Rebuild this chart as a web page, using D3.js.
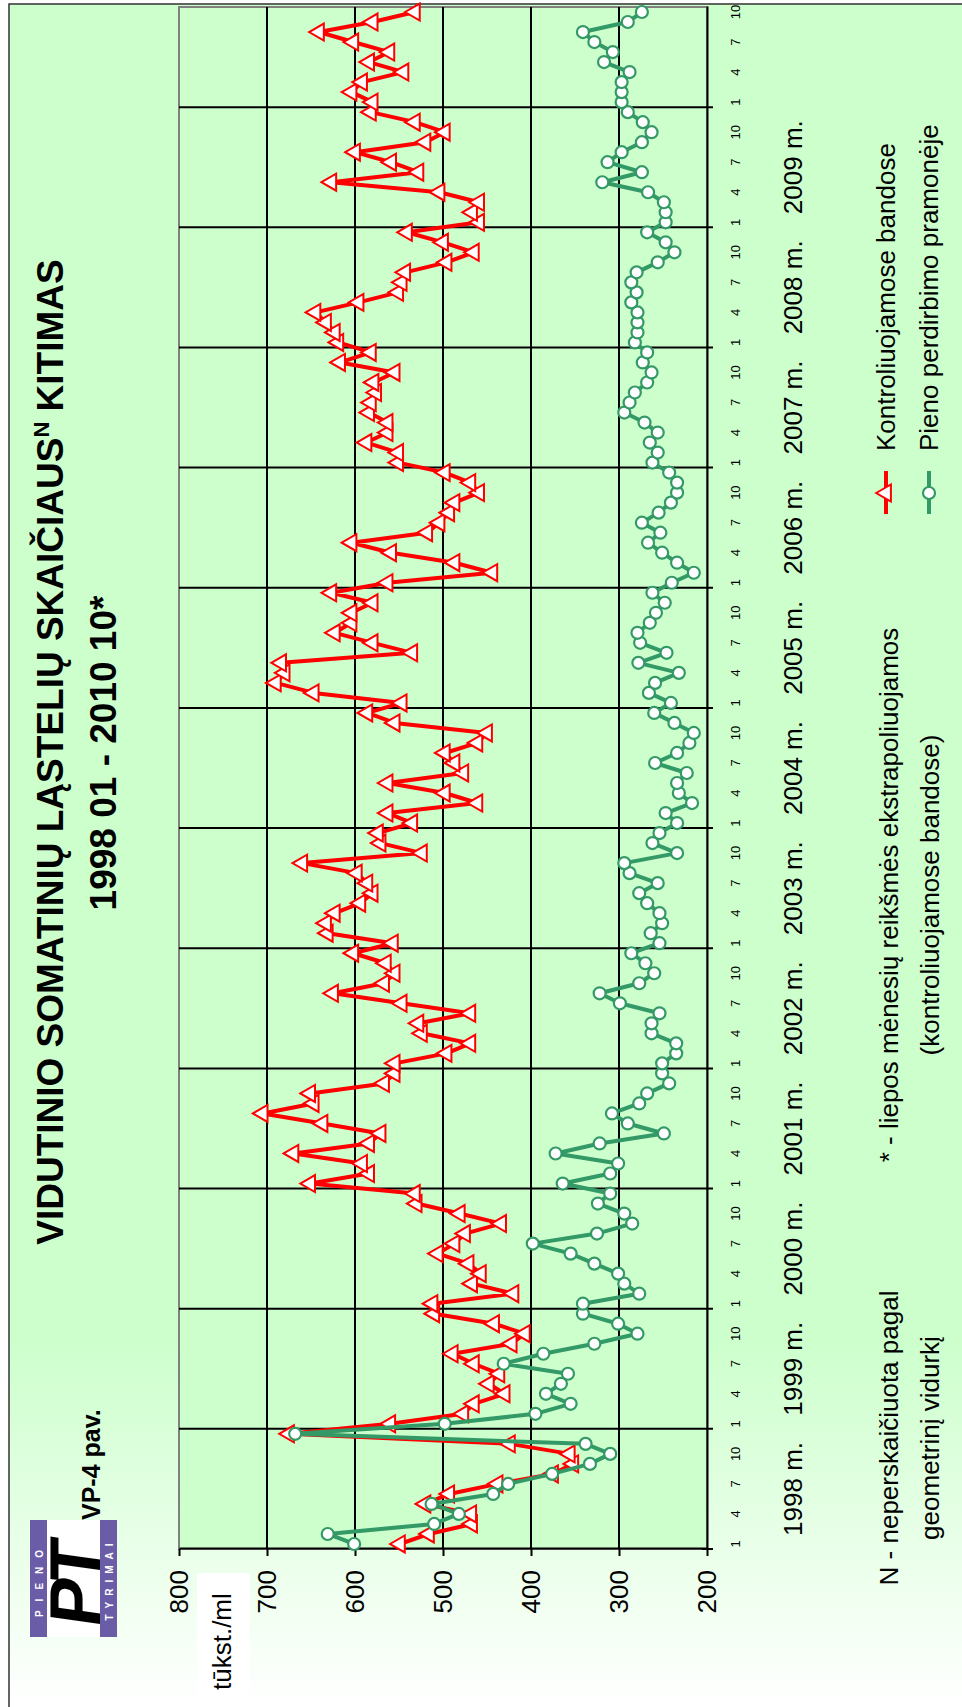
<!DOCTYPE html>
<html>
<head>
<meta charset="utf-8">
<script src="https://cdn.jsdelivr.net/npm/d3@7"></script>
<style>
  body { margin: 0; background: #fff; }
  svg { display: block; font-family: "Liberation Sans", Arial, sans-serif; }
</style>
</head>
<body>
<svg id="chart" width="962" height="1707"></svg>
<script>
// categories
var years = [1998, 1999, 2000, 2001, 2002, 2003, 2004, 2005, 2006, 2007, 2008, 2009, 2010];
var lastMonth = 10;            // data ends 2010 10
var monthTicks = [1, 4, 7, 10];
var valueTicks = [200, 300, 400, 500, 600, 700, 800];
var seriesNames = ["Kontroliuojamose bandose", "Pieno perdirbimo pramonėje"];

// tūkst./ml, monthly, 1998 01 - 2010 10
var kontrol = [
  549, 516, 467, 468, 520, 493, 438, 375, 352, 356, 424, 675,   // 1998
  560, 477, 465, 430, 448, 436, 465, 489, 422, 407, 442, 510,   // 1999
  512, 420, 467, 457, 471, 506, 487, 475, 434, 481, 530, 532,   // 2000
  651, 584, 592, 670, 584, 571, 637, 705, 647, 651, 567, 555,   // 2001
  555, 496, 469, 524, 528, 469, 547, 625, 567, 555, 565, 602,   // 2002
  557, 631, 633, 623, 594, 580, 586, 598, 660, 524, 571, 574,   // 2003
  535, 563, 461, 498, 563, 477, 487, 498, 461, 450, 555, 586,   // 2004
  547, 647, 690, 680, 684, 535, 580, 623, 604, 604, 580, 627,   // 2005
  563, 444, 487, 559, 604, 518, 504, 493, 487, 459, 469, 498,   // 2006
  551, 551, 587, 563, 563, 584, 582, 576, 579, 555, 617, 582,   // 2007
  619, 623, 633, 645, 596, 551, 547, 543, 496, 465, 500, 541,   // 2008
  459, 467, 459, 504, 627, 528, 559, 600, 520, 498, 532, 582,   // 2009
  580, 604, 592, 545, 584, 561, 602, 641, 580, 532              // 2010
];
var pramone = [
  601, 631, 510, 482, 513, 443, 426, 376, 333, 310, 338, 668,   // 1998
  498, 395, 355, 383, 366, 358, 431, 386, 328, 279, 301, 341,   // 1999
  341, 277, 294, 301, 328, 355, 398, 325, 285, 294, 324, 310,   // 2000
  364, 310, 301, 372, 322, 249, 290, 308, 277, 268, 243, 251,   // 2001
  251, 235, 235, 263, 263, 254, 299, 322, 277, 260, 270, 286,   // 2002
  254, 264, 251, 254, 268, 277, 256, 288, 294, 234, 262, 254,   // 2003
  234, 247, 217, 232, 234, 223, 259, 234, 220, 215, 237, 260,   // 2004
  241, 266, 259, 232, 278, 246, 276, 279, 265, 258, 248, 262,   // 2005
  240, 215, 234, 251, 267, 253, 274, 255, 241, 234, 234, 243,   // 2006
  262, 256, 265, 256, 271, 294, 288, 282, 268, 263, 273, 268,   // 2007
  282, 279, 279, 279, 286, 280, 286, 280, 256, 237, 247, 268,   // 2008
  247, 247, 249, 267, 319, 274, 313, 297, 274, 263, 273, 290,   // 2009
  297, 297, 297, 288, 317, 307, 328, 341, 290, 274              // 2010
];

var months = [];
years.forEach(function(yr) {
  for (var m = 1; m <= 12; m++) {
    if (yr < years[years.length - 1] || m <= lastMonth) months.push({ year: yr, month: m });
  }
});

// the chart is drawn landscape (1707 x 962) and turned a quarter to the left
var W = 1707;
var svg = d3.select('#chart');
var g = svg.append('g').attr('transform', 'translate(0,' + W + ') rotate(-90)');

var grad = svg.append('defs').append('linearGradient')
  .attr('id', 'bg').attr('gradientUnits', 'userSpaceOnUse')
  .attr('x1', 0).attr('y1', 0).attr('x2', 370).attr('y2', 0);
grad.append('stop').attr('offset', 0).attr('stop-color', '#ffffff');
grad.append('stop').attr('offset', 1).attr('stop-color', '#ccffcc');

g.append('rect')
  .attr('x', -10).attr('y', 9).attr('width', 1713).attr('height', 1000)
  .attr('fill', 'url(#bg)').attr('stroke', '#333').attr('stroke-width', 1.5);

var plotL = 158, plotR = 1700, plotT = 179, plotB = 707;

var x = d3.scaleBand().domain(d3.range(months.length)).range([plotL, plotR]).padding(0);
var bw = x.bandwidth();
var cx = function(i) { return x(i) + bw / 2; };
var y = d3.scaleLinear().domain([200, 800]).range([plotB, plotT]);

// plot area
g.append('rect')
  .attr('x', plotL).attr('y', plotT).attr('width', plotR - plotL).attr('height', plotB - plotT)
  .attr('fill', '#ccffcc').attr('stroke', '#808080').attr('stroke-width', 2);

// value gridlines
g.append('g').selectAll('line')
  .data(valueTicks.filter(function(v) { return v > 200 && v < 800; }))
  .enter().append('line')
  .attr('x1', plotL).attr('x2', plotR)
  .attr('y1', function(d) { return y(d); }).attr('y2', function(d) { return y(d); })
  .attr('stroke', '#000').attr('stroke-width', 2);

// year boundaries
var yearStarts = [];
months.forEach(function(d, i) { if (d.month === 1 && i > 0) yearStarts.push(i); });
g.append('g').selectAll('line')
  .data(yearStarts)
  .enter().append('line')
  .attr('x1', function(d) { return x(d); }).attr('x2', function(d) { return x(d); })
  .attr('y1', plotT).attr('y2', plotB + 6)
  .attr('stroke', '#000').attr('stroke-width', 2);

// value axis
var yAxis = d3.axisLeft(y).tickValues(valueTicks).tickSize(7).tickSizeOuter(0).tickPadding(14);
var ya = g.append('g').attr('transform', 'translate(' + plotL + ',0)').call(yAxis);
ya.attr('font-family', null).attr('font-size', null);
ya.selectAll('text').attr('font-size', 26).attr('fill', '#000');
ya.selectAll('line, path').attr('stroke', '#000').attr('stroke-width', 2);

// month axis
var xAxis = d3.axisBottom(x)
  .tickValues(d3.range(months.length).filter(function(i) { return monthTicks.indexOf(months[i].month) >= 0; }))
  .tickFormat(function(i) { return months[i].month; })
  .tickSize(0).tickSizeOuter(0).tickPadding(24);
var xa = g.append('g').attr('transform', 'translate(0,' + plotB + ')').call(xAxis);
xa.attr('font-family', null).attr('font-size', null);
xa.selectAll('text').attr('font-size', 13).attr('fill', '#000');
xa.select('.domain').attr('stroke', '#000').attr('stroke-width', 2);
xa.append('line').attr('x1', plotL).attr('x2', plotL).attr('y1', -5).attr('y2', 6)
  .attr('stroke', '#000').attr('stroke-width', 2);

// year labels (full years only)
var fullYears = years.filter(function(yr) {
  return months.filter(function(d) { return d.year === yr; }).length === 12;
});
g.append('g').selectAll('text')
  .data(fullYears)
  .enter().append('text')
  .attr('x', function(yr) { return x((yr - years[0]) * 12) + 6 * bw; })
  .attr('y', 802)
  .attr('text-anchor', 'middle').attr('font-size', 26)
  .text(function(yr) { return yr + ' m.'; });

// series
var line = d3.line().x(function(d, i) { return cx(i); }).y(function(d) { return y(d); });
var red = '#ff0000', green = '#339966';
var tri = d3.symbol().type(d3.symbolTriangle).size(125);

g.append('path').datum(kontrol).attr('d', line)
  .attr('fill', 'none').attr('stroke', red).attr('stroke-width', 4).attr('stroke-linejoin', 'round');
g.append('g').selectAll('path')
  .data(kontrol).enter().append('path')
  .attr('d', tri)
  .attr('transform', function(d, i) { return 'translate(' + cx(i) + ',' + y(d) + ')'; })
  .attr('fill', '#fff').attr('stroke', red).attr('stroke-width', 2);

g.append('path').datum(pramone).attr('d', line)
  .attr('fill', 'none').attr('stroke', green).attr('stroke-width', 4).attr('stroke-linejoin', 'round');
g.append('g').selectAll('circle')
  .data(pramone).enter().append('circle')
  .attr('cx', function(d, i) { return cx(i); }).attr('cy', function(d) { return y(d); })
  .attr('r', 6)
  .attr('fill', '#fff').attr('stroke', green).attr('stroke-width', 2.2);

// legend
var legend = g.append('g');
[{ name: seriesNames[0], color: red, yy: 886 }, { name: seriesNames[1], color: green, yy: 929 }]
  .forEach(function(s, k) {
    legend.append('line').attr('x1', 1193).attr('x2', 1236).attr('y1', s.yy).attr('y2', s.yy)
      .attr('stroke', s.color).attr('stroke-width', 4);
    if (k === 0) {
      legend.append('path').attr('d', tri)
        .attr('transform', 'translate(1214,' + s.yy + ')')
        .attr('fill', '#fff').attr('stroke', red).attr('stroke-width', 2);
    } else {
      legend.append('circle').attr('cx', 1214).attr('cy', s.yy).attr('r', 6)
        .attr('fill', '#fff').attr('stroke', green).attr('stroke-width', 2.2);
    }
    legend.append('text').attr('x', 1256).attr('y', s.yy + 9).attr('font-size', 26).text(s.name);
  });

// footnotes
var notes = [
  { x: 269, lines: ['N - neperskaičiuota pagal', 'geometrinį vidurkį'] },
  { x: 812, lines: ['* - liepos mėnesių reikšmės ekstrapoliuojamos', '(kontroliuojamose bandose)'] }
];
notes.forEach(function(n) {
  n.lines.forEach(function(t, k) {
    g.append('text').attr('x', n.x).attr('y', 898 + k * 41)
      .attr('text-anchor', 'middle').attr('font-size', 26).text(t);
  });
});

// title
var t1 = g.append('text').attr('x', 955).attr('y', 63)
  .attr('text-anchor', 'middle').attr('font-size', 37).attr('font-weight', 'bold');
t1.append('tspan').text('VIDUTINIO SOMATINIŲ LĄSTELIŲ SKAIČIAUS');
t1.append('tspan').attr('font-size', 22).attr('dy', -14).text('N');
t1.append('tspan').attr('dy', 14).text(' KITIMAS');
g.append('text').attr('x', 954).attr('y', 116)
  .attr('text-anchor', 'middle').attr('font-size', 37).attr('font-weight', 'bold')
  .text('1998 01 - 2010 10*');

g.append('text').attr('x', 187).attr('y', 100)
  .attr('font-size', 25).attr('font-weight', 'bold').text('VP-4 pav.');

// unit label on white
g.append('rect').attr('x', 0).attr('y', 197).attr('width', 134).attr('height', 53).attr('fill', '#fff');
g.append('text').attr('x', 17).attr('y', 231).attr('font-size', 26).text('tūkst./ml');

// logo
var logo = g.append('g').attr('transform', 'translate(70,30)');
logo.append('rect').attr('width', 117).attr('height', 87).attr('fill', '#fff');
logo.append('rect').attr('width', 117).attr('height', 17).attr('fill', '#6b5ca8');
logo.append('rect').attr('y', 70).attr('width', 117).attr('height', 17).attr('fill', '#6b5ca8');
logo.append('text').attr('x', 58).attr('y', 13).attr('text-anchor', 'middle')
  .attr('font-size', 10).attr('font-weight', 'bold').attr('fill', '#fff')
  .attr('letter-spacing', 9).text('PIENO');
logo.append('text').attr('x', 58).attr('y', 83).attr('text-anchor', 'middle')
  .attr('font-size', 10).attr('font-weight', 'bold').attr('fill', '#fff')
  .attr('letter-spacing', 6).text('TYRIMAI');
logo.append('text').attr('x', 58).attr('y', 70).attr('text-anchor', 'middle')
  .attr('font-size', 72).attr('font-weight', 'bold').attr('fill', '#000')
  .attr('letter-spacing', -6).attr('transform', 'skewX(-8)').text('PT');
</script>
</body>
</html>
